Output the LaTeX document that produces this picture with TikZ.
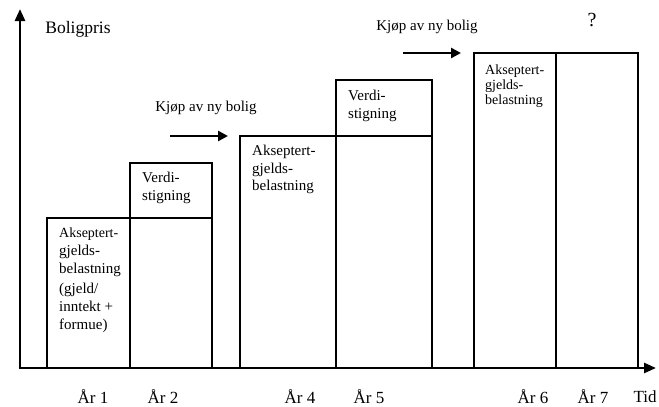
\documentclass[tikz,border=0pt]{standalone}
\usepackage{fontspec}
\setmainfont{Liberation Serif}
\usetikzlibrary{arrows.meta,positioning}
\tikzset{
  soyle/.style={draw=black, line width=1.2pt, inner sep=0pt, outer sep=0pt},
  boksetekst/.style={inner sep=0pt, align=left, font=\fontsize{15}{18}\selectfont},
  tekst/.style={inner sep=0pt, font=\fontsize{15}{18}\selectfont},
  aksetekst/.style={inner sep=0pt, font=\fontsize{17}{20}\selectfont},
  akse/.style={-{Triangle[length=12pt, width=10pt]}, line width=2.6pt, draw=black},
  kjop/.style={-{Triangle[length=10pt, width=10pt]}, line width=2.8pt, draw=black}
}

\begin{document}
\begin{tikzpicture}[x=1pt, y=-1pt, node distance=0pt]
  \useasboundingbox (0,0) rectangle (659,407);
  % akser
  \coordinate (origo) at (20,368);
  \coordinate (ytopp) at (20,9);
  \coordinate (xende) at (656,368);
  \draw[akse] ([yshift=-1.3pt]origo) -- (ytopp);
  \draw[akse] ([xshift=-1.3pt]origo) -- (xende);
  \node[aksetekst, font=\fontsize{17.5}{20}\selectfont] (boligpris) at (78,29) {Boligpris};

  % år 1 og 2
  \node[soyle, anchor=south west, minimum width=83pt, minimum height=150pt] (ak1) at (47,368) {};
  \node[soyle, right=of ak1, minimum width=82pt, minimum height=150pt] (b2) {};
  \node[soyle, above=of b2, minimum width=82pt, minimum height=55pt] (v2) {};

  % år 4 og 5
  \node[soyle, anchor=south west, minimum width=96pt, minimum height=232pt] (ak4) at (240,368) {};
  \node[soyle, right=of ak4, minimum width=96pt, minimum height=232pt] (b5) {};
  \node[soyle, above=of b5, minimum width=96pt, minimum height=56pt] (v5) {};

  % år 6 og 7
  \node[soyle, anchor=south west, minimum width=82pt, minimum height=315pt] (ak6) at (474,368) {};
  \node[soyle, right=of ak6, minimum width=82pt, minimum height=315pt] (b7) {};

  % tekst i boksene
  \node[boksetekst, below right=10pt and 12pt of ak1.north west] (t1)
    {\fontsize{14}{15}\selectfont Akseptert-\\gjelds-\\belastning\\[2pt]\fontsize{15}{18}\selectfont (gjeld/\\inntekt +\\formue)};
  \node[boksetekst, below right=9pt and 12pt of v2.north west] (t2) {Verdi-\\stigning};
  \node[boksetekst, below right=9pt and 12pt of ak4.north west, font=\fontsize{15}{17.5}\selectfont] (t4) {Akseptert-\\gjelds-\\belastning};
  \node[boksetekst, below right=10pt and 12pt of v5.north west] (t5) {Verdi-\\stigning};
  \node[boksetekst, below right=12pt and 11pt of ak6.north west, font=\fontsize{14}{15}\selectfont] (t6) {Akseptert-\\gjelds-\\belastning};

  % kjøp av ny bolig
  \coordinate (kjop1fra) at (170,136);
  \coordinate (kjop1til) at (228,136);
  \draw[kjop] (kjop1fra) -- (kjop1til);
  \node[tekst] (kjop1) at (206,108) {Kjøp av ny bolig};
  \coordinate (kjop2fra) at (403,53);
  \coordinate (kjop2til) at (461,53);
  \draw[kjop] (kjop2fra) -- (kjop2til);
  \node[tekst] (kjop2) at (427,27) {Kjøp av ny bolig};
  \node[tekst, font=\fontsize{20}{24}\selectfont] (sporsmal) at (592,20) {?};

  % år under aksen
  \node[aksetekst] (aar1) at (93,397) {År 1};
  \node[aksetekst] (aar2) at (163,397) {År 2};
  \node[aksetekst] (aar4) at (300,397) {År 4};
  \node[aksetekst] (aar5) at (369,397) {År 5};
  \node[aksetekst] (aar6) at (533,397) {År 6};
  \node[aksetekst] (aar7) at (593,397) {År 7};
  \node[aksetekst] (tid) at (645,397) {Tid};
\end{tikzpicture}
\end{document}
